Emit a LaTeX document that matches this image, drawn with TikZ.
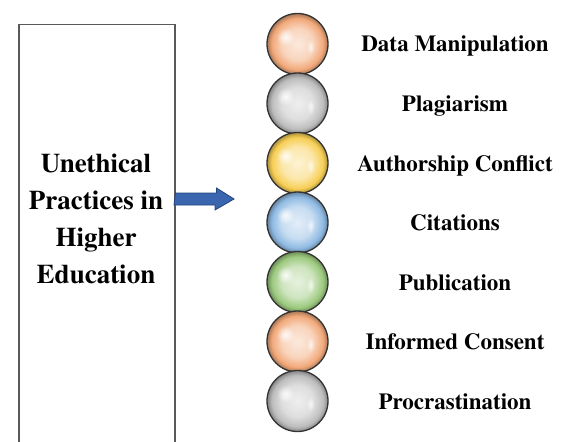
\documentclass[tikz,border=0pt]{standalone}
\usepackage{fontspec}
\setmainfont{TeX Gyre Termes}
\usetikzlibrary{positioning,fadings}

\definecolor{orborange}{HTML}{F2A97A}
\definecolor{orbgray}{HTML}{BDBDBD}
\definecolor{orbgold}{HTML}{F7CF55}
\definecolor{orbblue}{HTML}{8FBAE3}
\definecolor{orbgreen}{HTML}{9CC97E}
\definecolor{arrowfill}{HTML}{3A66B0}
\definecolor{arrowline}{HTML}{22447E}

\colorlet{orbcol}{orborange}
\pgfdeclareradialshading[orbcol]{orb}{\pgfpoint{0bp}{0bp}}{%
  color(0bp)=(orbcol!25!white); color(13bp)=(orbcol!50!white);
  color(21bp)=(orbcol); color(25bp)=(orbcol!70!black); color(50bp)=(orbcol!70!black)}
\tikzfading[name=glow, inner color=transparent!0, outer color=transparent!100]

\begin{document}
\begin{tikzpicture}[x=1pt, y=-1pt,
  bead/.style={circle, minimum size=61pt, inner sep=0pt, draw=black!80, line width=1.3pt, shading=orb},
  shine/.style={white, path fading=glow},
  item/.style={font=\bfseries\fontsize{23}{26}\selectfont, anchor=base},
  arrowbody/.style={fill=arrowfill, draw=arrowline, line width=0.8pt, line join=miter}]

\useasboundingbox (0,0) rectangle (561,441);

\node[draw=black!65, line width=1.5pt, minimum width=156pt, minimum height=460pt, anchor=north west] (box) at (18,24) {};
\node[font=\bfseries\fontsize{27}{37}\selectfont, align=center] (title) at (96,219) {Unethical\\Practices in\\Higher\\Education};

\coordinate (tip) at (234,199);
\draw[arrowbody] (box.east |- tip) ++(0,-6) -- ++(41,0) -- ++(0,-5) -- (tip) -- ++(-19,11) -- ++(0,-5) -- ++(-41,0) -- cycle;

\foreach \c/\t [count=\i] in {orborange/Data Manipulation, orbgray/Plagiarism, orbgold/Authorship Conflict,
  orbblue/Citations, orbgreen/Publication, orborange/Informed Consent, orbgray/Procrastination} {
  \colorlet{orbcol}{\c}
  \node[bead] (b\i) at (297.5,{44+59.5*(\i-1)}) {};
  \fill[shine, fill opacity=0.85] ([shift={(-12,-7)}]b\i.center) circle (9);
  \fill[shine, fill opacity=0.7] ([shift={(13,3)}]b\i.center) ellipse (4 and 8);
  \node[item] (t\i) at (455,{52+59.5*(\i-1)}) {\t};
}
\end{tikzpicture}
\end{document}
